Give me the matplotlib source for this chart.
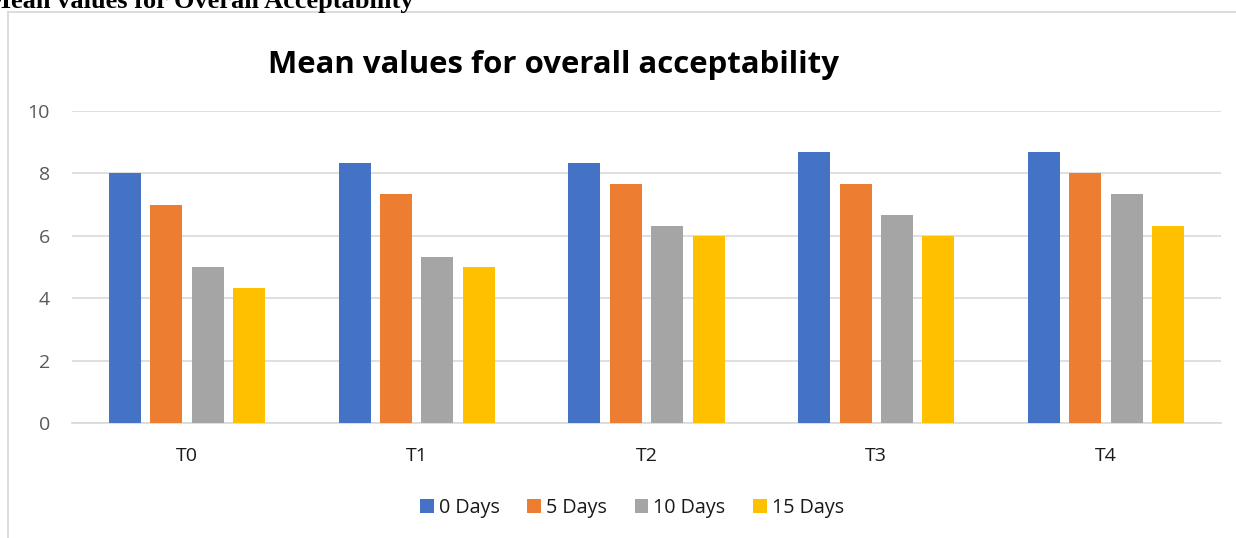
import numpy as np
import matplotlib.pyplot as plt
from matplotlib.lines import Line2D

treatments = ["T0", "T1", "T2", "T3", "T4"]
storage_days = ["0 Days", "5 Days", "10 Days", "15 Days"]
day0 = [8.00, 8.33, 8.33, 8.67, 8.67]
day5 = [7.00, 7.33, 7.67, 7.67, 8.00]
day10 = [5.00, 5.33, 6.33, 6.67, 7.33]
day15 = [4.33, 5.00, 6.00, 6.00, 6.33]
y_ticks = [0, 2, 4, 6, 8, 10]

colors = ["#4472C4", "#ED7D31", "#A5A5A5", "#FFC000"]
grid_col = "#D9D9D9"

fig = plt.figure(figsize=(12.36, 5.38), dpi=100)
ax = fig.add_axes([72 / 1236, 1 - 423 / 538, (1221 - 72) / 1236, (423 - 111) / 538])

x = np.arange(len(treatments))
width = 0.139
step = 0.18
for i, (vals, col) in enumerate(zip([day0, day5, day10, day15], colors)):
    ax.bar(x + (i - 1.5) * step, vals, width, color=col, label=storage_days[i], zorder=3)

ax.set_xlim(-0.5, len(treatments) - 0.5)
ax.set_ylim(0, 10)
ax.set_yticks(y_ticks)
ax.set_xticks(x)
ax.set_xticklabels(treatments)
ax.grid(axis="y", color=grid_col, linewidth=1.2, zorder=0)
for s in ["top", "right", "left"]:
    ax.spines[s].set_visible(False)
ax.spines["bottom"].set_color(grid_col)
ax.spines["bottom"].set_linewidth(1.2)
ax.tick_params(axis="both", length=0, labelsize=14, labelcolor="#595959", labelfontfamily="Open Sans")
ax.tick_params(axis="y", pad=16)
ax.tick_params(axis="x", labelcolor="#1a1a1a", pad=17)

fig.text(553 / 1236, 1 - 65 / 538, "Mean values for overall acceptability", ha="center", va="center",
         fontsize=22.4, fontweight="bold", family="Open Sans", color="#000000")

# document heading above the chart frame, partly cut off at the top edge
fig.text(-14 / 1236, 1 - 8 / 538, "Mean values for Overall Acceptability", ha="left", va="baseline",
         fontsize=19, fontweight="bold", family="Liberation Serif", color="#000000")

# chart frame
fig.add_artist(Line2D([8 / 1236, 8 / 1236], [0, 1 - 12 / 538], color=grid_col, linewidth=1.3))
fig.add_artist(Line2D([8 / 1236, 1], [1 - 12 / 538, 1 - 12 / 538], color=grid_col, linewidth=1.3))

leg = fig.legend(loc="center", bbox_to_anchor=(632 / 1236, 1 - 508 / 538), ncol=4, frameon=False,
                 handlelength=0.7, handleheight=0.7, handletextpad=0.25, columnspacing=1.4,
                 prop={"family": "Open Sans", "size": 14.2})
for t in leg.get_texts():
    t.set_color("#1a1a1a")

fig.savefig("out.png", dpi=100)
